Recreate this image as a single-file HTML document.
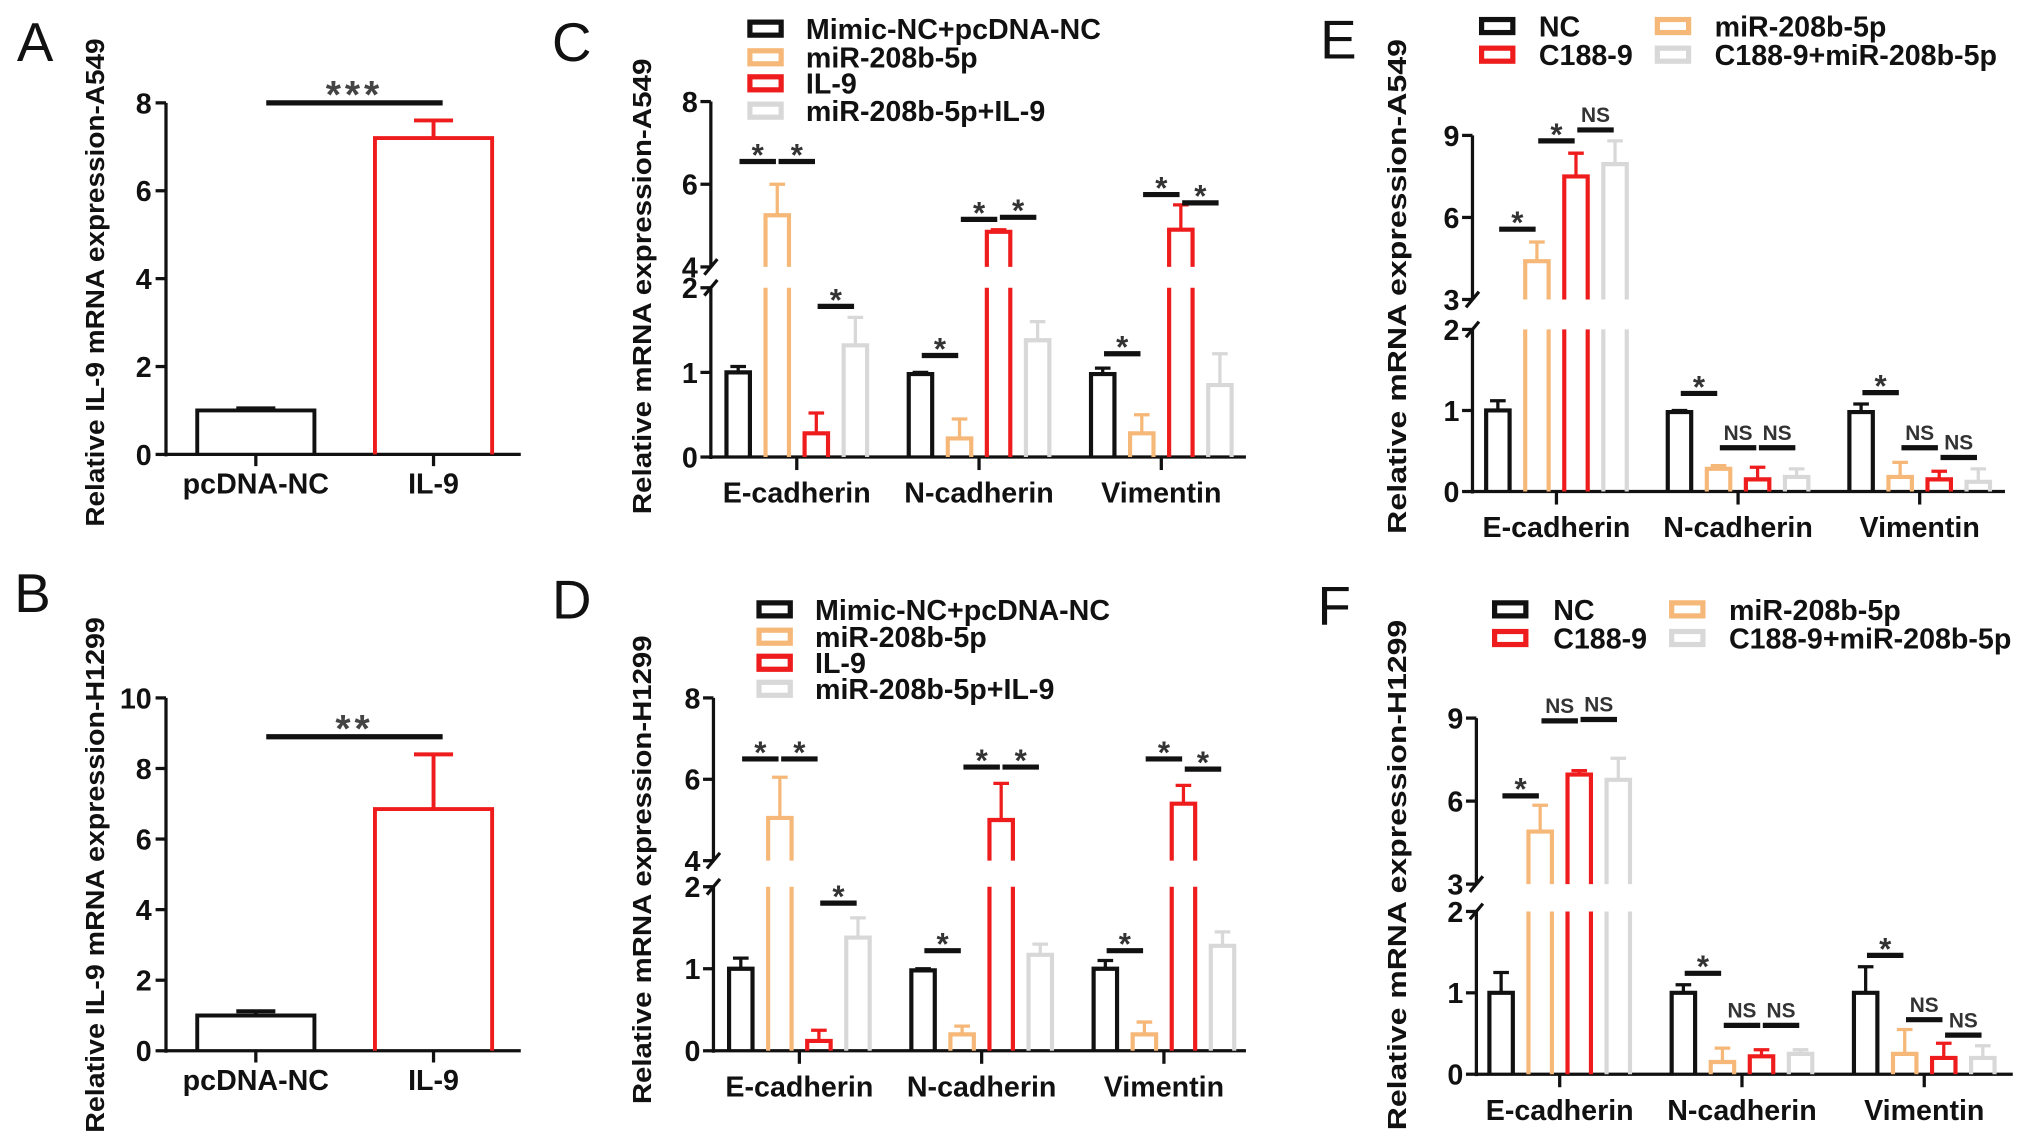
<!DOCTYPE html>
<html><head><meta charset="utf-8"><style>
html,body{margin:0;padding:0;background:#fff;}
svg{display:block;font-family:"Liberation Sans",Arial,sans-serif;}
</style></head><body>
<svg id="fig" width="2031" height="1144" viewBox="0 0 1560 878.6" preserveAspectRatio="none" xmlns="http://www.w3.org/2000/svg"></svg>
<script>
// ---- data ----
const groups = ["E-cadherin","N-cadherin","Vimentin"];
const abCats = ["pcDNA-NC","IL-9"];
const aVals = [1.0, 7.2];
const aErr = [1.05, 7.6];
const bVals = [1.0, 6.85];
const bErr = [1.12, 8.4];
const aTicks = [0,2,4,6,8];
const bTicks = [0,2,4,6,8,10];

const cdSeries = ["Mimic-NC+pcDNA-NC","miR-208b-5p","IL-9","miR-208b-5p+IL-9"];
const efSeries = ["NC","miR-208b-5p","C188-9","C188-9+miR-208b-5p"];

const cMimicNC=[1.0,0.98,0.98], cMimicNCErr=[1.07,1.0,1.05];
const cMiR=[5.25,0.22,0.28], cMiRErr=[6.0,0.45,0.5];
const cIL9=[0.28,4.85,4.9], cIL9Err=[0.52,4.9,5.5];
const cCombo=[1.32,1.38,0.85], cComboErr=[1.65,1.6,1.22];
const cSig=[[0,0,1,6.55,"*"],[0,1,2,6.55,"*"],[0,2,3,1.78,"*"],[1,0,1,1.2,"*"],[1,1,2,5.15,"*"],[1,2,3,5.2,"*"],[2,0,1,1.22,"*"],[2,1,2,5.75,"*"],[2,2,3,5.55,"*"]];

const dMimicNC=[1.0,0.98,1.0], dMimicNCErr=[1.13,1.0,1.1];
const dMiR=[5.05,0.2,0.2], dMiRErr=[6.05,0.3,0.35];
const dIL9=[0.12,5.0,5.4], dIL9Err=[0.25,5.9,5.85];
const dCombo=[1.38,1.17,1.28], dComboErr=[1.62,1.3,1.45];
const dSig=[[0,0,1,6.5,"*"],[0,1,2,6.5,"*"],[0,2,3,1.8,"*"],[1,0,1,1.22,"*"],[1,1,2,6.3,"*"],[1,2,3,6.3,"*"],[2,0,1,1.22,"*"],[2,1,2,6.5,"*"],[2,2,3,6.25,"*"]];

const eNC=[1.0,0.98,0.98], eNCErr=[1.12,1.0,1.08];
const eMiR=[4.4,0.28,0.18], eMiRErr=[5.1,0.32,0.36];
const eC188=[7.5,0.15,0.15], eC188Err=[8.35,0.3,0.25];
const eCombo=[7.95,0.18,0.12], eComboErr=[8.8,0.28,0.28];
const eSig=[[0,0,1,5.57,"*"],[0,1,2,8.8,"*"],[0,2,3,9.2,"NS"],[1,0,1,1.21,"*"],[1,1,2,0.54,"NS"],[1,2,3,0.54,"NS"],[2,0,1,1.22,"*"],[2,1,2,0.54,"NS"],[2,2,3,0.42,"NS"]];

const fNC=[1.0,1.0,1.0], fNCErr=[1.25,1.1,1.32];
const fMiR=[4.9,0.15,0.25], fMiRErr=[5.85,0.32,0.55];
const fC188=[6.96,0.22,0.2], fC188Err=[7.1,0.3,0.38];
const fCombo=[6.77,0.25,0.2], fComboErr=[7.55,0.3,0.35];
const fSig=[[0,0,1,6.19,"*"],[0,1,2,8.9,"NS"],[0,2,3,8.95,"NS"],[1,0,1,1.24,"*"],[1,1,2,0.6,"NS"],[1,2,3,0.6,"NS"],[2,0,1,1.46,"*"],[2,1,2,0.67,"NS"],[2,2,3,0.48,"NS"]];

const lowTicksCD=[0,1,2], upTicksCD=[4,6,8];
const lowTicksEF=[0,1,2], upTicksEF=[3,6,9];

// ---- drawing ----
const NS="http://www.w3.org/2000/svg";
const svg=document.getElementById('fig');
const COLORS=["#111111","#f6b878","#ee1c1c","#d8d8d8"];
function mk(tag,attrs,parent){const e=document.createElementNS(NS,tag);for(const k in attrs)e.setAttribute(k,attrs[k]);(parent||svg).appendChild(e);return e;}
function txt(str,attrs,parent){const e=mk('text',attrs,parent);e.textContent=str;return e;}

function label(ch,x,y){const t=txt(ch,{x:x,y:y,'font-size':42,fill:'#111'});

}

function yTitle(str,x,y,len,name){const t=txt(str,{x:0,y:0,'font-size':20,'font-weight':'bold','text-anchor':'middle',fill:'#111',transform:`translate(${x},${y}) rotate(-90)`,textLength:len,lengthAdjust:'spacingAndGlyphs'});

}

function simplePanel(id,cfg,vals,errs,ticks,sigVal,sigText){
  const g=mk('g',{});
  
  
  const max=ticks[ticks.length-1];
  const y=v=>cfg.y0-(v/max)*(cfg.y0-cfg.yTop);
  mk('line',{x1:cfg.ax,y1:y(max),x2:cfg.ax,y2:cfg.y0+1.5,stroke:'#111','stroke-width':2.5},g);
  mk('line',{x1:cfg.ax,y1:cfg.y0,x2:cfg.xEnd,y2:cfg.y0,stroke:'#111','stroke-width':2.5},g);
  ticks.forEach(t=>{mk('line',{x1:cfg.ax-8,y1:y(t),x2:cfg.ax,y2:y(t),stroke:'#111','stroke-width':2.5},g);
    const tl=txt(String(t),{x:cfg.ax-11,y:y(t)+8,'font-size':22,'font-weight':'bold','text-anchor':'end',fill:'#111'},g);
    
    });
  const cols=["#111111","#ee1c1c"];
  vals.forEach((v,i)=>{const cx=cfg.c0+i*cfg.step, w=90;
    const bar=mk('path',{d:`M${cx-w/2},${cfg.y0} V${y(v)} H${cx+w/2} V${cfg.y0}`,fill:'none',stroke:cols[i],'stroke-width':3},g);
    
    
    mk('path',{d:`M${cx},${y(v)} V${y(errs[i])} M${cx-15},${y(errs[i])} H${cx+15}`,stroke:cols[i],'stroke-width':3,fill:'none'},g);
    mk('line',{x1:cx,y1:cfg.y0,x2:cx,y2:cfg.y0+9,stroke:'#111','stroke-width':2.5},g);
    const xl=txt(abCats[i],{x:cx,y:cfg.y0+30,'font-size':22,'font-weight':'bold','text-anchor':'middle',fill:'#111'},g);
    
    
  });
  const x1=cfg.c0+8, x2=cfg.c0+cfg.step+7;
  mk('line',{x1:x1,y1:y(sigVal),x2:x2,y2:y(sigVal),stroke:'#111','stroke-width':4},g);
  const st=txt(sigText,{x:(x1+x2)/2,y:y(sigVal)+4,'font-size':30,'font-weight':'bold','text-anchor':'middle',fill:'#444','letter-spacing':3},g);
  
  
}

function brokenPanel(id,cfg,series,errsArr,names,sig,lowTicks,upTicks){
  const g=mk('g',{});
  
  
  const lowMax=lowTicks[lowTicks.length-1], upMin=upTicks[0], upMax=upTicks[upTicks.length-1];
  const y=v=> v<=lowMax ? cfg.y0-v*(cfg.y0-cfg.lowTop)/lowMax : cfg.upBot-(v-upMin)*(cfg.upBot-cfg.upTop)/(upMax-upMin);
  mk('line',{x1:cfg.ax,y1:cfg.lowTop,x2:cfg.ax,y2:cfg.y0+1.5,stroke:'#111','stroke-width':2.5},g);
  mk('line',{x1:cfg.ax,y1:cfg.upTop,x2:cfg.ax,y2:cfg.upBot,stroke:'#111','stroke-width':2.5},g);
  mk('line',{x1:cfg.ax-5,y1:cfg.upBot+6,x2:cfg.ax+5,y2:cfg.upBot-6,stroke:'#111','stroke-width':2.5},g);
  mk('line',{x1:cfg.ax-5,y1:cfg.lowTop+6,x2:cfg.ax+5,y2:cfg.lowTop-6,stroke:'#111','stroke-width':2.5},g);
  mk('line',{x1:cfg.ax,y1:cfg.y0,x2:cfg.xEnd,y2:cfg.y0,stroke:'#111','stroke-width':2.5},g);
  lowTicks.concat(upTicks).forEach(t=>{
    mk('line',{x1:cfg.ax-8,y1:y(t),x2:cfg.ax,y2:y(t),stroke:'#111','stroke-width':2.5},g);
    const tl=txt(String(t),{x:cfg.ax-10,y:y(t)+8,'font-size':22,'font-weight':'bold','text-anchor':'end',fill:'#111'},g);
    
    
  });
  const offs=[-45,-15,15,45], w=18;
  const cx=(gi,si)=>cfg.c0+gi*cfg.step+offs[si];
  groups.forEach((gname,gi)=>{
    const gc=cfg.c0+gi*cfg.step;
    mk('line',{x1:gc,y1:cfg.y0,x2:gc,y2:cfg.y0+10,stroke:'#111','stroke-width':2.5},g);
    const xl=txt(gname,{x:gc,y:cfg.y0+35,'font-size':22,'font-weight':'bold','text-anchor':'middle',fill:'#111'},g);
    
    
    series.forEach((arr,si)=>{
      const v=arr[gi], e=errsArr[si][gi], x=cx(gi,si), col=COLORS[si];
      let d;
      if(v>lowMax){d=`M${x-w/2},${cfg.y0} V${cfg.lowTop} M${x+w/2},${cfg.y0} V${cfg.lowTop} M${x-w/2},${cfg.upBot} V${y(v)} H${x+w/2} V${cfg.upBot}`;}
      else d=`M${x-w/2},${cfg.y0} V${y(v)} H${x+w/2} V${cfg.y0}`;
      const bar=mk('path',{d:d,fill:'none',stroke:col,'stroke-width':3.2},g);
      
      
      const eb=mk('path',{d:`M${x},${y(v)} V${y(e)} M${x-6},${y(e)} H${x+6}`,fill:'none',stroke:col,'stroke-width':2.5},g);
      
      
    });
  });
  sig.forEach(s=>{
    const [gi,a,b,v,lab]=s;
    const m=(cx(gi,a)+cx(gi,b))/2, yy=y(v);
    const ln=mk('line',{x1:m-14,y1:yy,x2:m+14,y2:yy,stroke:'#111','stroke-width':4},g);
    
    
    const t=txt(lab,{x:m,y:lab==='*'?yy+3:yy-6,'font-size':lab==='*'?24:16,'font-weight':'bold','text-anchor':'middle',fill:'#333'},g);
    
    
  });
  names.forEach((n,i)=>{
    const p=cfg.leg[i];
    const r=mk('rect',{x:p[0],y:p[1]-5,width:24,height:10,fill:'none',stroke:COLORS[i],'stroke-width':4},g);
    
    
    const t=txt(n,{x:p[2],y:p[1]+8,'font-size':22,'font-weight':'bold',fill:'#111'},g);
    
    
  });
}

label('A',13,47); label('B',11,470); label('C',424,47); label('D',424,475); label('E',1014,45); label('F',1012,480);

yTitle('Relative IL-9 mRNA expression-A549',80,217,375,'y-axis-title-a');
yTitle('Relative IL-9 mRNA expression-H1299',80,672,396,'y-axis-title-b');
yTitle('Relative mRNA expression-A549',500,220,350,'y-axis-title-c');
yTitle('Relative mRNA expression-H1299',500,668,360,'y-axis-title-d');
yTitle('Relative mRNA expression-A549',1080,220,380,'y-axis-title-e');
yTitle('Relative mRNA expression-H1299',1080,672,392,'y-axis-title-f');

simplePanel('a',{ax:127.5,y0:349,yTop:79,xEnd:400,c0:196.5,step:136.5},aVals,aErr,aTicks,8,'***');
simplePanel('b',{ax:127.5,y0:807,yTop:536,xEnd:400,c0:196.5,step:136.5},bVals,bErr,bTicks,8.9,'**');

brokenPanel('c',{ax:546,xEnd:957,y0:351,lowTop:221,upBot:205,upTop:78,c0:612,step:140,
  leg:[[576,22,619],[576,44,619],[576,64,619],[576,85,619]]},
  [cMimicNC,cMiR,cIL9,cCombo],[cMimicNCErr,cMiRErr,cIL9Err,cComboErr],cdSeries,cSig,lowTicksCD,upTicksCD);
brokenPanel('d',{ax:548,xEnd:957,y0:807,lowTop:681,upBot:661,upTop:536,c0:614,step:140,
  leg:[[583,468,626],[583,489,626],[583,509,626],[583,529,626]]},
  [dMimicNC,dMiR,dIL9,dCombo],[dMimicNCErr,dMiRErr,dIL9Err,dComboErr],cdSeries,dSig,lowTicksCD,upTicksCD);
brokenPanel('e',{ax:1131,xEnd:1540,y0:377.5,lowTop:253,upBot:230,upTop:104,c0:1195.5,step:139.5,
  leg:[[1138,20,1182],[1273,20,1317],[1138,42,1182],[1273,42,1317]]},
  [eNC,eMiR,eC188,eCombo],[eNCErr,eMiRErr,eC188Err,eComboErr],efSeries,eSig,lowTicksEF,upTicksEF);
brokenPanel('f',{ax:1134,xEnd:1546,y0:825,lowTop:700,upBot:679,upTop:551.5,c0:1198,step:140,
  leg:[[1148,468,1193],[1284,468,1328],[1148,490,1193],[1284,490,1328]]},
  [fNC,fMiR,fC188,fCombo],[fNCErr,fMiRErr,fC188Err,fComboErr],efSeries,fSig,lowTicksEF,upTicksEF);
</script>
</body></html>
